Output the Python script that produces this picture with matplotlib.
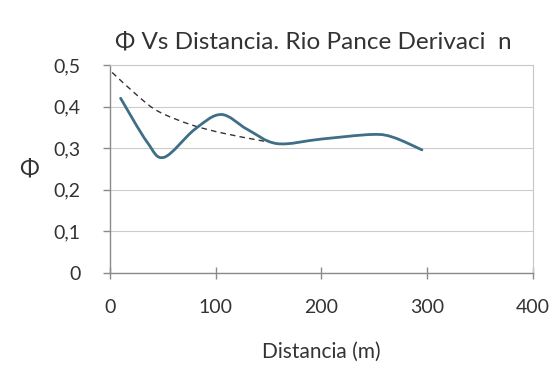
import numpy as np
import matplotlib
matplotlib.use("Agg")
import matplotlib.pyplot as plt
from matplotlib.path import Path
from matplotlib.patches import PathPatch
from matplotlib.ticker import FuncFormatter

# measured series (solid) and trend (dashed)
dist = [10, 35, 51, 80, 105, 130, 158, 200, 248, 268, 295]
phi = [0.42, 0.315, 0.278, 0.345, 0.381, 0.345, 0.311, 0.322, 0.333, 0.326, 0.296]

trend_x = [2, 27, 46, 77, 107, 139, 152]
trend_y = [0.482, 0.424, 0.388, 0.356, 0.336, 0.32, 0.314]

x_ticks = [0, 100, 200, 300, 400]
y_ticks = [0, 0.1, 0.2, 0.3, 0.4, 0.5]


def smooth_path(xs, ys, k=1 / 6):
    # Excel-like smoothed line: cubic Bezier with Catmull-Rom control points
    pts = np.column_stack([xs, ys]).astype(float)
    verts = [pts[0]]
    codes = [Path.MOVETO]
    n = len(pts)
    for i in range(n - 1):
        p0 = pts[max(i - 1, 0)]
        p1 = pts[i]
        p2 = pts[i + 1]
        p3 = pts[min(i + 2, n - 1)]
        c1 = p1 + (p2 - p0) * k
        c2 = p2 - (p3 - p1) * k
        verts += [c1, c2, p2]
        codes += [Path.CURVE4] * 3
    return Path(verts, codes)


plt.rcParams['font.family'] = ['Lato', 'DejaVu Sans']

fig = plt.figure(figsize=(5.54, 3.67), dpi=100)
ax = fig.add_axes([0.1986, 0.256, 0.7634, 0.567])

ax.add_patch(PathPatch(smooth_path(trend_x, trend_y), fill=False,
                       edgecolor='#333333', lw=1.0, ls=(0, (4, 3))))
ax.add_patch(PathPatch(smooth_path(dist, phi), fill=False,
                       edgecolor='#3f6f86', lw=2.0, capstyle='round'))

ax.set_xlim(0, 400)
ax.set_ylim(0, 0.5)
ax.set_xticks(x_ticks)
ax.set_yticks(y_ticks)
ax.yaxis.set_major_formatter(FuncFormatter(lambda v, p: ('%g' % round(v, 1)).replace('.', ',')))
ax.grid(axis='y', color='#cccccc', lw=0.8)
ax.set_axisbelow(True)

for s in ['left', 'bottom']:
    ax.spines[s].set_color('#8a8a8a')
    ax.spines[s].set_linewidth(1.0)
ax.spines['right'].set_color('#c8c8c8')
ax.spines['top'].set_color('#c8c8c8')
ax.tick_params(axis='both', colors='#8a8a8a', labelcolor='#333333',
               labelsize=14, length=5, width=1.0)
ax.tick_params(axis='x', direction='inout', length=8, pad=15)
ax.tick_params(axis='y', pad=16)

ax.set_xlabel('Distancia (m)', fontsize=15, color='#333333', labelpad=18)
ax.set_ylabel('Φ', fontsize=17, color='#333333', labelpad=18, rotation=0,
              va='center')
fig.text(0.565, 0.885, 'Φ Vs Distancia. Rio Pance Derivaci  n', fontsize=17.5,
         color='#333333', ha='center', va='center')

fig.savefig('out.png', dpi=100)
